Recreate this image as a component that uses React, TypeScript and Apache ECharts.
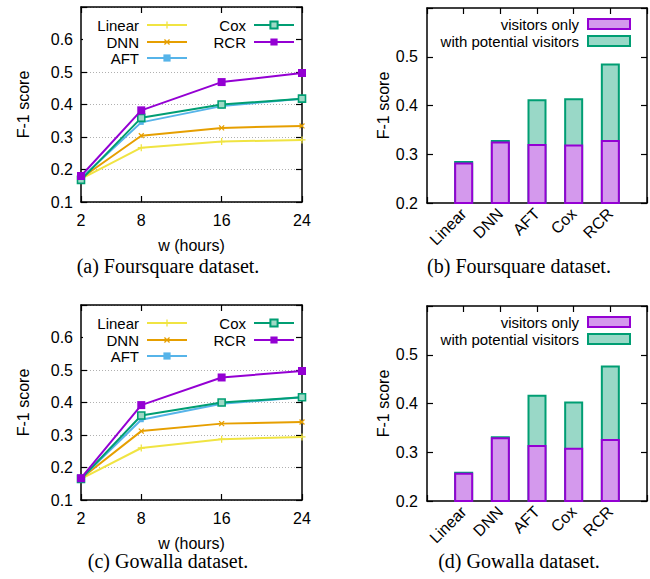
import React, { useEffect, useRef } from "react";
import * as echarts from "echarts";

// ---------- data ----------
const W_HOURS = [2, 8, 16, 24];
const LINE_MODELS = ["Linear", "DNN", "AFT", "Cox", "RCR"];

// (a) Foursquare, F-1 score vs w
const FS_LINEAR = [0.171, 0.267, 0.286, 0.291];
const FS_DNN = [0.173, 0.304, 0.328, 0.334];
const FS_AFT = [0.173, 0.345, 0.395, 0.418];
const FS_COX = [0.168, 0.359, 0.4, 0.418];
const FS_RCR = [0.18, 0.382, 0.469, 0.497];

// (c) Gowalla, F-1 score vs w
const GW_LINEAR = [0.165, 0.26, 0.287, 0.294];
const GW_DNN = [0.166, 0.312, 0.335, 0.34];
const GW_AFT = [0.166, 0.347, 0.396, 0.416];
const GW_COX = [0.165, 0.36, 0.4, 0.416];
const GW_RCR = [0.167, 0.392, 0.477, 0.497];

// bar charts
const BAR_MODELS = ["Linear", "DNN", "AFT", "Cox", "RCR"];
const FS_VISITORS_ONLY = [0.283, 0.326, 0.321, 0.32, 0.329];
const FS_WITH_POTENTIAL = [0.286, 0.329, 0.413, 0.415, 0.486];
const GW_VISITORS_ONLY = [0.258, 0.331, 0.315, 0.309, 0.327];
const GW_WITH_POTENTIAL = [0.26, 0.333, 0.418, 0.404, 0.478];

const LINE_Y_TICKS = [0.1, 0.2, 0.3, 0.4, 0.5, 0.6];
const BAR_Y_TICKS = [0.2, 0.3, 0.4, 0.5];

const CAPTIONS = [
  "(a) Foursquare dataset.",
  "(b) Foursquare dataset.",
  "(c) Gowalla dataset.",
  "(d) Gowalla dataset.",
];

// ---------- styles ----------
const SANS = "'Liberation Sans', Arial, sans-serif";
const SERIF = "'Liberation Serif', 'Times New Roman', serif";
const COLORS: Record<string, string> = {
  Linear: "#f0e442",
  DNN: "#e69f00",
  AFT: "#56b4e9",
  Cox: "#009e73",
  RCR: "#9400d3",
};
const PLUS = "path://M-1,-0.18H-0.18V-1H0.18V-0.18H1V0.18H0.18V1H-0.18V0.18H-1Z";
const SYMBOLS: Record<string, any> = {
  Linear: { symbol: PLUS, symbolSize: 7, symbolRotate: 0, fill: "#f0e442", border: 0 },
  DNN: { symbol: PLUS, symbolSize: 7, symbolRotate: 45, fill: "#e69f00", border: 0 },
  AFT: { symbol: "rect", symbolSize: 5, symbolRotate: 0, fill: "#56b4e9", border: 0 },
  Cox: { symbol: "rect", symbolSize: 7, symbolRotate: 0, fill: "#9fd9c6", border: 1.6 },
  RCR: { symbol: "rect", symbolSize: 8, symbolRotate: 0, fill: "#9400d3", border: 0 },
};
const PURPLE = "#9400d3";
const GREEN = "#009e73";
const PURPLE_FILL = "#d499ed";
const GREEN_FILL = "#99d8c7";

const GRIDS = [
  { left: 81, top: 7, width: 221, height: 195, kind: "line" },
  { left: 427, top: 8, width: 220, height: 195, kind: "bar" },
  { left: 81, top: 305, width: 221, height: 195, kind: "line" },
  { left: 427, top: 306, width: 220, height: 195, kind: "bar" },
];
const CAPTION_POS = [
  [168, 266],
  [519, 266],
  [168, 561],
  [519, 561],
];

const axisLine = { show: true, onZero: false, lineStyle: { color: "#000", width: 1.5 } };
const tickStyle = { color: "#000", width: 1.2 };

function buildOption() {
  const xAxis: any[] = [];
  const yAxis: any[] = [];
  const series: any[] = [];
  const legend: any[] = [];
  const graphic: any[] = [];

  GRIDS.forEach((g, gi) => {
    if (g.kind === "line") {
      xAxis.push({
        type: "value",
        gridIndex: gi,
        min: 2,
        max: 24,
        axisLine,
        axisTick: { inside: true, length: 6, customValues: W_HOURS, lineStyle: tickStyle },
        axisLabel: { customValues: W_HOURS, fontSize: 16, color: "#000", fontFamily: SANS, margin: 10 },
        splitLine: { show: false },
        name: "w (hours)",
        nameLocation: "middle",
        nameGap: 35,
        nameTextStyle: { fontSize: 16, color: "#000", fontFamily: SANS, lineHeight: 16 },
      });
      xAxis.push({
        type: "value",
        gridIndex: gi,
        position: "top",
        min: 2,
        max: 24,
        axisLine,
        axisTick: { inside: true, length: 6, customValues: W_HOURS, lineStyle: tickStyle },
        axisLabel: { show: false },
        splitLine: { show: false },
      });
      yAxis.push({
        type: "value",
        gridIndex: gi,
        min: 0.1,
        max: 0.7,
        interval: 0.1,
        axisLine,
        axisTick: { inside: true, length: 6, lineStyle: tickStyle },
        axisLabel: {
          fontSize: 16,
          color: "#000",
          fontFamily: SANS,
          margin: 8,
          formatter: (v: number) => (LINE_Y_TICKS.some((t) => Math.abs(t - v) < 1e-6) ? v.toFixed(1) : ""),
        },
        splitLine: { show: true, lineStyle: { color: "#b0b0b0", width: 1, type: [1, 2] } },
        name: "F-1 score",
        nameLocation: "middle",
        nameGap: 50,
        nameRotate: 90,
        nameTextStyle: { fontSize: 16, color: "#000", fontFamily: SANS },
      });
      yAxis.push({
        type: "value",
        gridIndex: gi,
        position: "right",
        min: 0.1,
        max: 0.7,
        interval: 0.1,
        axisLine,
        axisTick: { inside: true, length: 6, lineStyle: tickStyle },
        axisLabel: { show: false },
        splitLine: { show: false },
      });

      const sets = gi === 0
        ? [FS_LINEAR, FS_DNN, FS_AFT, FS_COX, FS_RCR]
        : [GW_LINEAR, GW_DNN, GW_AFT, GW_COX, GW_RCR];
      LINE_MODELS.forEach((m, mi) => {
        const c = COLORS[m];
        const s = SYMBOLS[m];
        series.push({
          type: "line",
          name: m,
          xAxisIndex: gi * 2,
          yAxisIndex: gi * 2,
          data: W_HOURS.map((w, i) => [w, sets[mi][i]]),
          symbol: s.symbol,
          symbolSize: s.symbolSize,
          symbolRotate: s.symbolRotate,
          showAllSymbol: true,
          lineStyle: { color: c, width: 2 },
          itemStyle: { color: s.fill, borderColor: c, borderWidth: s.border },
          z: 2 + mi,
        });
      });

      // opaque key box
      graphic.push({
        type: "rect",
        shape: { x: g.left + 2, y: g.top + 8, width: 212, height: 51 },
        style: { fill: "#fff" },
        z: 1,
      });
      const col1 = ["Linear", "DNN", "AFT"];
      const col2 = ["Cox", "RCR"];
      const rowTops = [10, 27, 43];
      const mkLegend = (name: string, right: number, top: number) => ({
        data: [name],
        right,
        top,
        orient: "horizontal",
        align: "right",
        itemWidth: 40,
        itemHeight: 9,
        padding: 0,
        selectedMode: false,
        textStyle: { fontSize: 15, color: "#000", fontFamily: SANS, lineHeight: 16, padding: [0, 3, 0, 0] },
      });
      col1.forEach((n, i) => legend.push(mkLegend(n, 650 - 188, g.top + rowTops[i])));
      col2.forEach((n, i) => legend.push(mkLegend(n, 650 - 295, g.top + rowTops[i])));
    } else {
      const barAxis = (position: string, labels: boolean) => ({
        type: "value",
        gridIndex: gi,
        position,
        min: -1,
        max: 5,
        interval: 1,
        axisLine,
        axisTick: { inside: true, length: 6, lineStyle: tickStyle },
        axisLabel: labels
          ? {
              fontSize: 16,
              color: "#000",
              fontFamily: SANS,
              margin: 8,
              rotate: 45,
              formatter: (v: number) => BAR_MODELS[Math.round(v)] ?? "",
            }
          : { show: false },
        splitLine: { show: false },
      });
      xAxis.push(barAxis("bottom", true));
      xAxis.push(barAxis("top", false));
      const yBar = (position: string, labels: boolean, withName: boolean) => ({
        type: "value",
        gridIndex: gi,
        position,
        min: 0.2,
        max: 0.6,
        interval: 0.1,
        axisLine,
        axisTick: { inside: true, length: 6, lineStyle: tickStyle },
        axisLabel: labels
          ? {
              fontSize: 16,
              color: "#000",
              fontFamily: SANS,
              margin: 9,
              formatter: (v: number) => (BAR_Y_TICKS.some((t) => Math.abs(t - v) < 1e-6) ? v.toFixed(1) : ""),
            }
          : { show: false },
        splitLine: { show: false },
        ...(withName
          ? {
              name: "F-1 score",
              nameLocation: "middle",
              nameGap: 34,
              nameRotate: 90,
              nameTextStyle: { fontSize: 16, color: "#000", fontFamily: SANS },
            }
          : {}),
      });
      yAxis.push(yBar("left", true, true));
      yAxis.push(yBar("right", false, false));

      const vis = gi === 1 ? FS_VISITORS_ONLY : GW_VISITORS_ONLY;
      const tot = gi === 1 ? FS_WITH_POTENTIAL : GW_WITH_POTENTIAL;
      series.push({
        type: "bar",
        name: "with potential visitors",
        xAxisIndex: gi * 2,
        yAxisIndex: gi * 2,
        data: tot.map((v, i) => [i, v]),
        barWidth: 19,
        barGap: "-100%",
        itemStyle: { color: GREEN_FILL, borderColor: GREEN, borderWidth: 2 },
        clip: true,
      });
      series.push({
        type: "bar",
        name: "visitors only",
        xAxisIndex: gi * 2,
        yAxisIndex: gi * 2,
        data: vis.map((v, i) => [i, v]),
        barWidth: 19,
        barGap: "-100%",
        itemStyle: { color: PURPLE_FILL, borderColor: PURPLE, borderWidth: 2 },
        clip: true,
      });
      const mkBarLegend = (name: string, fill: string, stroke: string, top: number) => ({
        data: [{ name, icon: "rect", itemStyle: { color: fill, borderColor: stroke, borderWidth: 2 } }],
        right: 19,
        top,
        orient: "horizontal",
        align: "right",
        itemWidth: 42,
        itemHeight: 10,
        padding: 0,
        selectedMode: false,
        textStyle: { fontSize: 15, color: "#000", fontFamily: SANS, lineHeight: 16, padding: [0, 4, 0, 0] },
      });
      legend.push(mkBarLegend("visitors only", PURPLE_FILL, PURPLE, g.top + 8));
      legend.push(mkBarLegend("with potential visitors", GREEN_FILL, GREEN, g.top + 25));
    }
  });

  CAPTIONS.forEach((t, i) => {
    graphic.push({
      type: "text",
      x: CAPTION_POS[i][0],
      y: CAPTION_POS[i][1],
      style: {
        text: t,
        fontSize: 20,
        fontFamily: SERIF,
        fill: "#000",
        align: "center",
        verticalAlign: "middle",
      },
    });
  });

  return {
    animation: false,
    backgroundColor: "#fff",
    grid: GRIDS.map((g) => ({ left: g.left, top: g.top, width: g.width, height: g.height, containLabel: false })),
    xAxis,
    yAxis,
    series,
    legend,
    graphic,
  };
}

export default function App() {
  const ref = useRef<HTMLDivElement>(null);
  useEffect(() => {
    if (!ref.current) return;
    const chart = echarts.init(ref.current, undefined, { renderer: "svg" });
    chart.setOption(buildOption() as any);
    return () => chart.dispose();
  }, []);
  return (
    <div
      ref={ref}
      style={{ position: "absolute", left: 0, top: 0, width: 650, height: 579, background: "#fff" }}
    />
  );
}
